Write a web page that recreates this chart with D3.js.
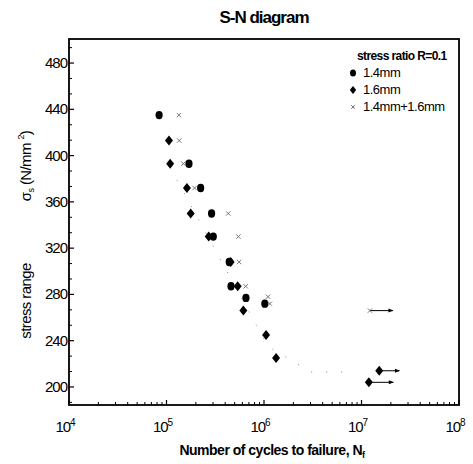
<!DOCTYPE html>
<html>
<head>
<meta charset="utf-8">
<script src="https://cdn.jsdelivr.net/npm/d3@7"></script>
<style>
  body { margin: 0; background: #fff; }
  svg { font-family: "Liberation Sans", Arial, sans-serif; }
</style>
</head>
<body>
<svg id="chart"></svg>
<script>
// data (cycles N, stress range in N/mm2)
const circN = [8.4e4, 1.70e5, 2.24e5, 2.90e5, 3.02e5, 4.40e5, 4.59e5, 6.53e5, 1.02e6]
const circS = [435, 393, 372, 350, 330, 308, 287, 277, 272]

const diaN = [1.06e5, 1.09e5, 1.62e5, 1.77e5, 2.71e5, 4.55e5, 5.37e5, 6.14e5, 1.05e6, 1.33e6, 1.52e7, 1.19e7]
const diaS = [413, 393, 372, 350, 330, 308, 287, 266, 245, 225, 214, 204]

const crossN = [1.34e5, 1.35e5, 1.49e5, 1.94e5, 4.3e5, 5.46e5, 5.55e5, 6.49e5, 1.10e6, 1.15e6, 1.22e7]
const crossS = [435, 413, 393, 372, 350, 330, 308, 287, 278, 272, 266]

// run-outs (arrow to the right)
const runN = [1.22e7, 1.52e7, 1.19e7]
const runS = [266, 214, 204]
const runEnd = [2.1e7, 2.45e7, 2.12e7]

// faint dotted trend curve
const trendN = [1.28e5, 1.1e6, 3.0e6, 7.0e6]
const trendS = [379, 235, 213, 213]

const yTicks = [200, 240, 280, 320, 360, 400, 440, 480]
const xTicks = [4, 5, 6, 7, 8]

const legendLabels = ["1.4mm", "1.6mm", "1.4mm+1.6mm"]

let width = 473
let height = 464
let padL = 69, padR = 459, padT = 39, padB = 405

let svg = d3.select("#chart").attr("width", width).attr("height", height)

let xScale = d3.scaleLog().domain([1e4, 1e8]).range([padL, padR])
let yScale = d3.scaleLinear().domain([184.4, 500.8]).range([padB, padT])

// title
svg.append("text")
  .attr("x", 264).attr("y", 23)
  .attr("text-anchor", "middle")
  .style("font-size", "17px").style("font-weight", "bold")
  .style("letter-spacing", "-1px")
  .text("S-N diagram")

// trend line
let trend = trendN.map((n, i) => [n, trendS[i]])
svg.append("path")
  .attr("d", d3.line().x(d => xScale(d[0])).y(d => yScale(d[1]))(trend))
  .attr("fill", "none")
  .attr("stroke", "#888")
  .attr("stroke-width", 1)
  .attr("stroke-dasharray", "1,14")

// y ticks (inward)
let yMinor = []
yTicks.forEach(t => { yMinor.push(t + 40 / 3, t + 80 / 3) })
yMinor.unshift(200 - 40 / 3)
svg.append("g").selectAll("line")
  .data(yMinor.filter(v => v > 184.4 && v < 500.8))
  .enter().append("line")
  .attr("x1", padL).attr("x2", padL + 3)
  .attr("y1", d => yScale(d)).attr("y2", d => yScale(d))
  .attr("stroke", "#000").attr("stroke-width", 1)
svg.append("g").selectAll("line")
  .data(yTicks)
  .enter().append("line")
  .attr("x1", padL).attr("x2", padL + 5)
  .attr("y1", d => yScale(d)).attr("y2", d => yScale(d))
  .attr("stroke", "#000").attr("stroke-width", 1.2)
svg.append("g").selectAll("text")
  .data(yTicks)
  .enter().append("text")
  .attr("x", padL - 2)
  .attr("y", d => yScale(d) + 5)
  .attr("text-anchor", "end")
  .style("font-size", "15px")
  .style("letter-spacing", "-1px")
  .text(d => d)

// x ticks (inward)
let xMinor = []
for (let e = 4; e < 8; e++) {
  for (let k = 2; k <= 9; k++) xMinor.push(k * Math.pow(10, e))
}
svg.append("g").selectAll("line")
  .data(xMinor)
  .enter().append("line")
  .attr("x1", d => xScale(d)).attr("x2", d => xScale(d))
  .attr("y1", padB).attr("y2", padB - 3)
  .attr("stroke", "#000").attr("stroke-width", 1)
svg.append("g").selectAll("line")
  .data(xTicks)
  .enter().append("line")
  .attr("x1", d => xScale(Math.pow(10, d))).attr("x2", d => xScale(Math.pow(10, d)))
  .attr("y1", padB).attr("y2", padB - 5)
  .attr("stroke", "#000").attr("stroke-width", 1.2)
let xl = svg.append("g").selectAll("text")
  .data(xTicks)
  .enter().append("text")
  .attr("x", d => xScale(Math.pow(10, d)) - 4)
  .attr("y", 432)
  .attr("text-anchor", "middle")
  .style("font-size", "15px")
  .style("letter-spacing", "-1px")
xl.append("tspan").text("10")
xl.append("tspan").attr("dy", -6).style("font-size", "10px").text(d => d)

// frame
svg.append("rect")
  .attr("x", padL).attr("y", padT)
  .attr("width", padR - padL).attr("height", padB - padT)
  .attr("fill", "none").attr("stroke", "#000").attr("stroke-width", 1.8)

// run-out arrows
svg.append("defs").append("marker")
  .attr("id", "arr").attr("viewBox", "0 0 10 10")
  .attr("refX", 9).attr("refY", 5)
  .attr("markerWidth", 6).attr("markerHeight", 5)
  .attr("orient", "auto")
  .append("path").attr("d", "M0,1L10,5L0,9Z").attr("fill", "#000")
svg.append("g").selectAll("line")
  .data(runN)
  .enter().append("line")
  .attr("x1", d => xScale(d)).attr("x2", (d, i) => xScale(runEnd[i]))
  .attr("y1", (d, i) => yScale(runS[i])).attr("y2", (d, i) => yScale(runS[i]))
  .attr("stroke", "#000").attr("stroke-width", 1)
  .attr("marker-end", "url(#arr)")

// points
let diamond = "M0,-5L4,0L0,5L-4,0Z"
svg.append("g").selectAll("ellipse")
  .data(circN)
  .enter().append("ellipse")
  .attr("cx", d => xScale(d))
  .attr("cy", (d, i) => yScale(circS[i]))
  .attr("rx", 3.6).attr("ry", 4.2)
  .attr("fill", "#000")
svg.append("g").selectAll("path")
  .data(diaN)
  .enter().append("path")
  .attr("d", diamond)
  .attr("transform", (d, i) => "translate(" + xScale(d) + "," + yScale(diaS[i]) + ")")
  .attr("fill", "#000")
svg.append("g").selectAll("path")
  .data(crossN)
  .enter().append("path")
  .attr("d", d3.symbol(d3.symbolX, 14))
  .attr("transform", (d, i) => "translate(" + xScale(d) + "," + yScale(crossS[i]) + ")")
  .attr("fill", "none").attr("stroke", "#777").attr("stroke-width", 1)

// legend
let lg = svg.append("g")
lg.append("text")
  .attr("x", 357).attr("y", 60)
  .style("font-size", "12px").style("font-weight", "bold")
  .style("letter-spacing", "-0.6px")
  .text("stress ratio R=0.1")
lg.selectAll("text.lab")
  .data(legendLabels)
  .enter().append("text")
  .attr("x", 363)
  .attr("y", (d, i) => 77 + i * 17)
  .style("font-size", "13px")
  .style("letter-spacing", "-0.5px")
  .text(d => d)
lg.append("ellipse").attr("cx", 353).attr("cy", 73).attr("rx", 3).attr("ry", 3.6).attr("fill", "#000")
lg.append("path").attr("d", "M0,-4L3.2,0L0,4L-3.2,0Z")
  .attr("transform", "translate(353,90)").attr("fill", "#000")
lg.append("path").attr("d", d3.symbol(d3.symbolX, 10))
  .attr("transform", "translate(353,107)")
  .attr("fill", "none").attr("stroke", "#777").attr("stroke-width", 1)

// axis titles
svg.append("text")
  .attr("x", 272).attr("y", 455)
  .attr("text-anchor", "middle")
  .style("font-size", "14px").style("font-weight", "bold")
  .style("letter-spacing", "-0.5px")
  .text("Number of cycles to failure, N")
  .append("tspan").attr("dy", 3).style("font-size", "9px").text("f")

svg.append("text")
  .attr("transform", "translate(31,301) rotate(-90)")
  .attr("text-anchor", "middle")
  .style("font-size", "15px")
  .style("letter-spacing", "-0.6px")
  .text("stress range")

let sl = svg.append("text")
  .attr("transform", "translate(31,166) rotate(-90)")
  .attr("text-anchor", "middle")
  .style("font-size", "15px")
  .style("letter-spacing", "-0.6px")
sl.append("tspan").text("σ")
sl.append("tspan").attr("dy", 3).style("font-size", "9px").text("s")
sl.append("tspan").attr("dy", -3).text(" (N/mm ")
sl.append("tspan").attr("dy", -7).style("font-size", "9px").text("2")
sl.append("tspan").attr("dy", 7).text(")")
</script>
</body>
</html>
